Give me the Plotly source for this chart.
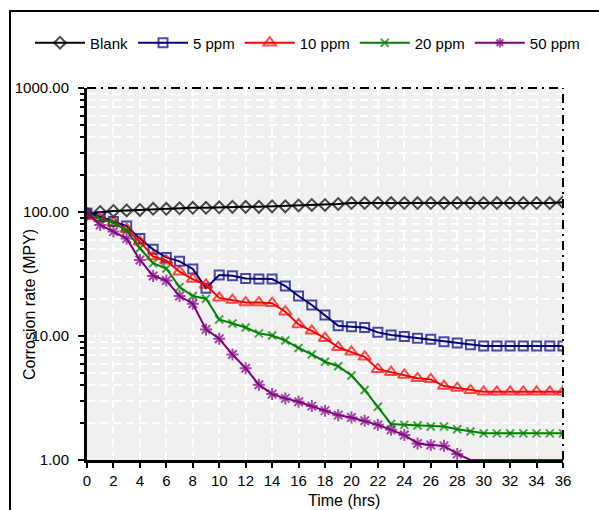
import plotly.graph_objects as go

# Immersion time (hours) and measured corrosion rates (MPY)
hours = list(range(0, 37))

blank = [97, 100, 102, 103, 104, 106, 106, 107, 108, 108, 109, 110, 110, 110,
         111, 111, 113, 114, 114, 116, 118, 118, 118, 118, 118, 118, 118, 118,
         118, 118, 118, 118, 118, 118, 118, 118, 120]

ppm5 = [98, 92, 84, 77, 61, 50, 43, 40, 34.7, 24.3, 31, 30.6, 29.1, 28.8,
        28.8, 25.3, 21, 17.8, 14.8, 12.1, 11.9, 11.7, 10.7, 10.2, 9.9, 9.6,
        9.4, 9.0, 8.8, 8.5, 8.3, 8.3, 8.3, 8.3, 8.3, 8.3, 8.3]

ppm10 = [92.6, 88.7, 82, 72.6, 57.6, 43.7, 40.5, 33, 28.8, 25.8, 20.3, 19.5,
         18.6, 18.6, 18.4, 15.7, 12.4, 11.0, 9.6, 8.1, 7.45, 6.8, 5.4, 5.1,
         4.85, 4.56, 4.47, 3.95, 3.8, 3.65, 3.55, 3.55, 3.55, 3.55, 3.55, 3.55,
         3.55]

ppm20 = [97.6, 87.6, 82, 71, 51, 38.7, 35, 24.8, 21, 20, 13.6, 12.6, 11.7,
         10.5, 10.1, 9.2, 8.0, 7.1, 6.2, 5.7, 4.8, 3.67, 2.69, 1.95, 1.92, 1.9,
         1.86, 1.86, 1.77, 1.7, 1.64, 1.64, 1.64, 1.64, 1.64, 1.64, 1.64]

ppm50 = [98, 78.6, 69.5, 61, 41, 30.5, 28, 21, 18.2, 11.3, 9.5, 7.1, 5.5,
         4.05, 3.4, 3.14, 2.95, 2.72, 2.5, 2.3, 2.2, 2.07, 1.92, 1.75, 1.59,
         1.36, 1.32, 1.30, 1.12, 1.0, 1.0, 1.0, 1.0, 1.0, 1.0, 1.0, 1.0]

series_names = ["Blank", "5 ppm", "10 ppm", "20 ppm", "50 ppm"]
y_tick_vals = [1, 10, 100, 1000]
y_tick_text = ["1.00", "10.00", "100.00", "1000.00"]
x_tick_vals = list(range(0, 37, 2))

FONT = "Liberation Sans, Arial, sans-serif"
Y_FLOOR = 1.0

styles = [
    dict(color="#000000", symbol="diamond-open", size=9),
    dict(color="#000080", symbol="square-open", size=9),
    dict(color="#ff0000", symbol="triangle-up-open", size=11),
    dict(color="#008000", symbol="x-thin-open", size=8),
    dict(color="#800080", symbol="asterisk-open", size=10),
]

fig = go.Figure()
for name, values, st in zip(series_names, [blank, ppm5, ppm10, ppm20, ppm50], styles):
    # points sitting on the axis floor are drawn without a marker
    sizes = [0 if v <= Y_FLOOR else st["size"] for v in values]
    fig.add_trace(go.Scatter(
        x=hours, y=values, name=name, mode="lines+markers",
        line=dict(color=st["color"], width=2),
        marker=dict(symbol=st["symbol"], size=sizes, color=st["color"],
                    line=dict(color=st["color"], width=2)),
    ))

W, H = 599, 510
ML, MR, MT, MB = 87, 36, 88, 50
PW, PH = W - ML - MR, H - MT - MB


def px_x(p):
    return (p - ML) / PW


def px_y(p):
    return (H - MB - p) / PH


fig.update_layout(
    width=W, height=H,
    margin=dict(l=ML, r=MR, t=MT, b=MB),
    paper_bgcolor="white",
    plot_bgcolor="#f0f0f0",
    font=dict(family=FONT, size=15, color="black"),
    showlegend=True,
    legend=dict(orientation="h", x=px_x(30), y=px_y(43), xanchor="left",
                yanchor="middle", font=dict(size=15), itemwidth=50,
                bgcolor="rgba(0,0,0,0)", tracegroupgap=0),
    xaxis=dict(
        range=[0, 36], tickmode="array", tickvals=x_tick_vals,
        ticks="outside", ticklen=5, tickwidth=2, tickcolor="black",
        showline=True, linecolor="black", linewidth=3,
        showgrid=True, gridcolor="white", gridwidth=1.5, griddash="8px,5px",
        zeroline=False, tickfont=dict(size=15),
    ),
    yaxis=dict(
        type="log", range=[0, 3], tickmode="array", tickvals=y_tick_vals,
        ticktext=y_tick_text, ticks="outside", ticklen=6, tickwidth=2,
        tickcolor="black", showline=True, linecolor="black", linewidth=3,
        showgrid=True, gridcolor="white", gridwidth=1.5, griddash="dot",
        zeroline=False, tickfont=dict(size=15), ticklabelstandoff=6,
        minor=dict(tickmode="array",
                   tickvals=[m * d for d in (1, 10, 100) for m in range(2, 10)],
                   ticks="outside", ticklen=4, tickwidth=2, tickcolor="black",
                   showgrid=True, gridcolor="white", gridwidth=1.5,
                   griddash="8px,5px"),
    ),
)

# dash-dot frame on the top and right edges of the plot area
fig.add_shape(type="line", xref="paper", yref="paper", x0=0, x1=1, y0=1, y1=1,
              line=dict(color="black", width=2, dash="9px,5px,2px,5px"))
fig.add_shape(type="line", xref="paper", yref="paper", x0=1, x1=1, y0=0, y1=1,
              line=dict(color="black", width=2, dash="9px,5px,2px,5px"))

# outer chart border
fig.add_shape(type="rect", xref="paper", yref="paper",
              x0=px_x(10), x1=px_x(640), y0=px_y(560), y1=px_y(11),
              line=dict(color="black", width=2), layer="above")

fig.add_annotation(text="Corrosion rate (MPY)", xref="paper", yref="paper",
                   x=px_x(29), y=px_y(305), textangle=-90, showarrow=False,
                   xanchor="center", yanchor="middle", font=dict(size=16))
fig.add_annotation(text="Time (hrs)", xref="paper", yref="paper",
                   x=px_x(344), y=px_y(501), showarrow=False,
                   xanchor="center", yanchor="middle", font=dict(size=16))

fig.write_html("out.html")
